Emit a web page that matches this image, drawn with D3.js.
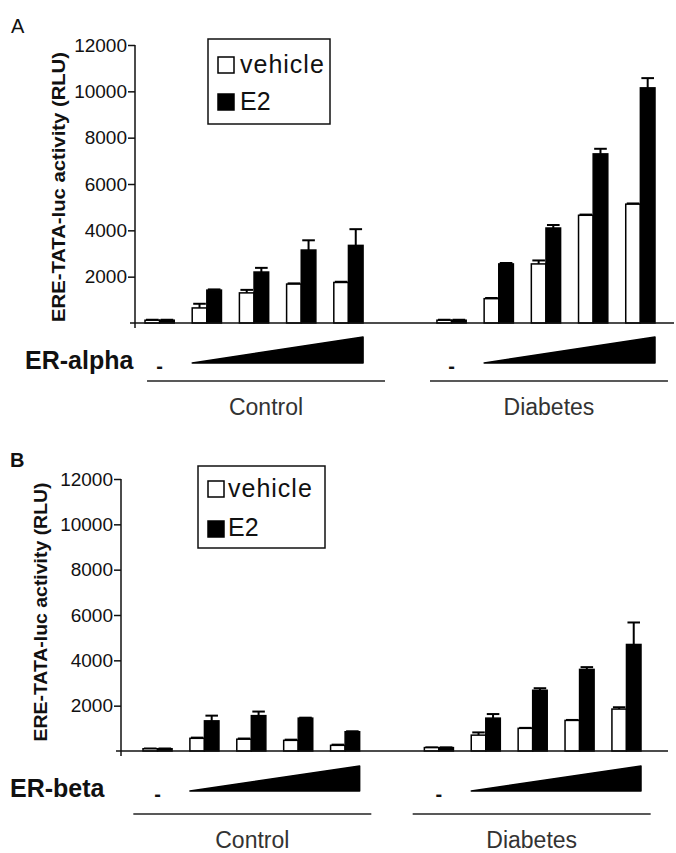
<!DOCTYPE html>
<html>
<head>
<meta charset="utf-8">
<script src="https://cdn.jsdelivr.net/npm/d3@7"></script>
<style>
  body { margin: 0; background: #fff; }
  svg { display: block; font-family: "Liberation Sans", Arial, sans-serif; }
</style>
</head>
<body>
<div id="chart"></div>
<script>
// categories
const conditions = ["Control", "Diabetes"];
const doses = ["none", "d1", "d2", "d3", "d4"];
const treatments = ["vehicle", "E2"];
const yTicks = [2000, 4000, 6000, 8000, 10000, 12000];

// panel A: ER-alpha, Control x5 then Diabetes x5 (RLU)
const alphaVehicle = [120, 650, 1300, 1680, 1750, 120, 1050, 2550, 4650, 5130];
const alphaVehicleErr = [20, 180, 130, 30, 30, 20, 30, 150, 30, 30];
const alphaE2 = [120, 1420, 2200, 3150, 3350, 120, 2550, 4100, 7300, 10150];
const alphaE2Err = [20, 30, 180, 420, 700, 20, 40, 130, 220, 420];

// panel B: ER-beta
const betaVehicle = [100, 560, 520, 470, 250, 150, 700, 1000, 1350, 1850];
const betaVehicleErr = [10, 30, 30, 30, 30, 10, 120, 20, 20, 80];
const betaE2 = [100, 1330, 1560, 1450, 850, 150, 1450, 2680, 3600, 4700];
const betaE2Err = [10, 230, 180, 20, 20, 10, 180, 90, 100, 970];

const W = 676, H = 853;

const svg = d3
  .select("#chart")
  .append("svg")
  .attr("width", W)
  .attr("height", H);

const drawPanel = (p) => {
  const g = svg.append("g");

  const y = d3.scaleLinear().domain([0, 12000]).range([p.y0, p.yTop]);
  const xCond = d3.scaleBand().domain(conditions).range(p.xRange).paddingInner(p.gap);
  const xDose = d3.scaleBand().domain(doses).range([0, xCond.bandwidth()]).paddingInner(0.38);
  const xTreat = d3.scaleBand().domain(treatments).range([0, xDose.bandwidth()]);

  // panel letter
  g.append("text")
    .attr("x", p.letterX)
    .attr("y", p.letterY)
    .attr("font-size", 20)
    .attr("font-weight", p.letterBold ? "bold" : "normal")
    .attr("fill", "#111")
    .text(p.letter);

  // y axis
  const axis = g
    .append("g")
    .attr("transform", "translate(" + p.axisX + ",0)")
    .call(
      d3.axisLeft(y)
        .tickValues(yTicks)
        .tickFormat(d3.format("d"))
        .tickSize(7)
        .tickSizeOuter(0)
        .tickPadding(1)
    );
  axis.select(".domain").remove();
  axis.selectAll(".tick line").attr("stroke", "#111").attr("stroke-width", 1.5);
  axis
    .selectAll(".tick text")
    .attr("font-size", 19)
    .attr("fill", "#111")
    .attr("font-family", '"Liberation Sans", Arial, sans-serif');
  g.append("line")
    .attr("x1", p.axisX).attr("x2", p.axisX)
    .attr("y1", y(12000)).attr("y2", p.y0 + 5)
    .attr("stroke", "#111").attr("stroke-width", 1.5);

  // y label
  g.append("text")
    .attr("transform", "translate(" + p.yLabelX + "," + p.yLabelY + ") rotate(-90)")
    .attr("text-anchor", "middle")
    .attr("font-size", 18)
    .attr("font-weight", "bold")
    .attr("fill", "#111")
    .attr("textLength", p.yLabelLen)
    .attr("lengthAdjust", "spacingAndGlyphs")
    .text("ERE-TATA-luc activity (RLU)");

  // bars
  conditions.forEach((c, ci) => {
    doses.forEach((d, di) => {
      const i = ci * doses.length + di;
      const gx = xCond(c) + xDose(d);
      const series = [
        { t: "vehicle", v: p.vehicle[i], e: p.vehicleErr[i], fill: "#fff" },
        { t: "E2", v: p.e2[i], e: p.e2Err[i], fill: "#000" },
      ];
      series.forEach((s) => {
        const bx = gx + xTreat(s.t);
        const bw = xTreat.bandwidth();
        // error bar (upper only)
        g.append("line")
          .attr("x1", bx + bw / 2).attr("x2", bx + bw / 2)
          .attr("y1", y(s.v)).attr("y2", y(s.v + s.e))
          .attr("stroke", "#000").attr("stroke-width", 2);
        g.append("line")
          .attr("x1", bx + 1).attr("x2", bx + bw - 1)
          .attr("y1", y(s.v + s.e)).attr("y2", y(s.v + s.e))
          .attr("stroke", "#000").attr("stroke-width", 2);
        g.append("rect")
          .attr("x", bx)
          .attr("y", y(s.v))
          .attr("width", bw)
          .attr("height", p.y0 - y(s.v))
          .attr("fill", s.fill)
          .attr("stroke", "#000")
          .attr("stroke-width", 1.5);
      });
    });

    // dose wedge and "-" for no receptor
    const x0 = xCond(c) + xDose("d1");
    const x1 = xCond(c) + xDose("d4") + xDose.bandwidth();
    g.append("path")
      .attr("d", "M" + x0 + "," + p.wedgeBottom + " L" + x1 + "," + p.wedgeTop + " L" + x1 + "," + p.wedgeBottom + " Z")
      .attr("fill", "#000")
      .attr("stroke", "#000")
      .attr("stroke-width", 1.5)
      .attr("stroke-linejoin", "round");
    g.append("text")
      .attr("x", xCond(c) + xDose("none") + xDose.bandwidth() / 2)
      .attr("y", p.dashY)
      .attr("text-anchor", "middle")
      .attr("font-size", 20)
      .attr("font-weight", "bold")
      .attr("fill", "#111")
      .text("-");

    // group underline and name
    const cx = xCond(c) + xCond.bandwidth() / 2 + p.lineShift[ci];
    g.append("line")
      .attr("x1", cx - 119).attr("x2", cx + 119)
      .attr("y1", p.lineY).attr("y2", p.lineY)
      .attr("stroke", "#222").attr("stroke-width", 1.5);
    g.append("text")
      .attr("x", cx)
      .attr("y", p.condY)
      .attr("text-anchor", "middle")
      .attr("font-size", 23)
      .attr("fill", "#333")
      .text(c);
  });

  // baseline
  g.append("line")
    .attr("x1", p.axisX - 5).attr("x2", p.baseEnd)
    .attr("y1", p.y0).attr("y2", p.y0)
    .attr("stroke", "#111").attr("stroke-width", 1.5);

  // factor label
  g.append("text")
    .attr("x", p.factorX)
    .attr("y", p.factorY)
    .attr("font-size", 25)
    .attr("font-weight", "bold")
    .attr("fill", "#111")
    .text(p.factor);

  // legend
  const L = p.legend;
  g.append("rect")
    .attr("x", L.x).attr("y", L.y)
    .attr("width", L.w).attr("height", L.h)
    .attr("fill", "#fff").attr("stroke", "#111").attr("stroke-width", 1.5);
  treatments.forEach((t, ti) => {
    g.append("rect")
      .attr("x", L.sx).attr("y", L.sy[ti])
      .attr("width", 16).attr("height", 16)
      .attr("fill", t === "E2" ? "#000" : "#fff")
      .attr("stroke", "#000").attr("stroke-width", 1.5);
    g.append("text")
      .attr("x", L.tx).attr("y", L.ty[ti])
      .attr("font-size", 25)
      .attr("letter-spacing", t === "vehicle" ? 1 : 0)
      .attr("fill", "#111")
      .text(t);
  });
};

drawPanel({
  letter: "A", letterX: 11, letterY: 33, letterBold: false,
  axisX: 135, y0: 323, yTop: 45, xRange: [145, 655], gap: 0.253, baseEnd: 674,
  yLabelX: 65, yLabelY: 187, yLabelLen: 270,
  vehicle: alphaVehicle, vehicleErr: alphaVehicleErr, e2: alphaE2, e2Err: alphaE2Err,
  wedgeTop: 337, wedgeBottom: 363, dashY: 373, lineY: 381, condY: 415, lineShift: [12, 3],
  factor: "ER-alpha", factorX: 25, factorY: 369,
  legend: { x: 208, y: 39, w: 122, h: 85, sx: 218, sy: [57, 94], tx: 240, ty: [73, 110] },
});

drawPanel({
  letter: "B", letterX: 10, letterY: 467, letterBold: true,
  axisX: 121, y0: 751, yTop: 479, xRange: [143, 641], gap: 0.23, baseEnd: 668,
  yLabelX: 47, yLabelY: 612, yLabelLen: 259,
  vehicle: betaVehicle, vehicleErr: betaVehicleErr, e2: betaE2, e2Err: betaE2Err,
  wedgeTop: 766, wedgeBottom: 791, dashY: 801, lineY: 814, condY: 848, lineShift: [1, -1],
  factor: "ER-beta", factorX: 10, factorY: 797,
  legend: { x: 198, y: 466, w: 127, h: 82, sx: 208, sy: [481, 521], tx: 228, ty: [497, 536] },
});
</script>
</body>
</html>
